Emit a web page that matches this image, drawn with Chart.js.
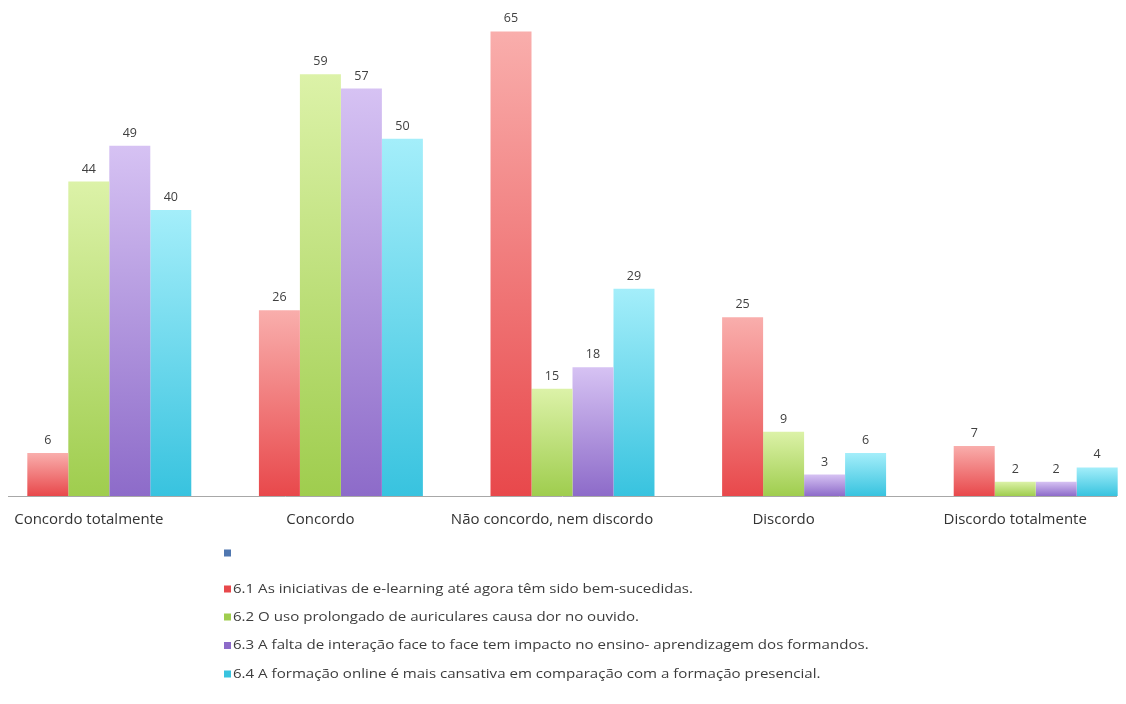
<!DOCTYPE html>
<html>
<head>
<meta charset="utf-8">
<script src="https://cdn.jsdelivr.net/npm/chart.js@4.4.0/dist/chart.umd.min.js"></script>
<style>
  html, body { margin: 0; padding: 0; background: #fff; overflow: hidden; }
  #wrap { position: absolute; left: -40px; top: 0; width: 1180px; height: 704px; }
</style>
</head>
<body>
<div id="wrap"><canvas id="barChart" width="1180" height="704"></canvas></div>
<script>
const categories = ['Concordo totalmente', 'Concordo', 'Não concordo, nem discordo', 'Discordo', 'Discordo totalmente'];

const seriesNames = [
    '',
    '6.1 As iniciativas de e-learning até agora têm sido bem-sucedidas.',
    '6.2 O uso prolongado de auriculares causa dor no ouvido.',
    '6.3 A falta de interação face to face tem impacto no ensino- aprendizagem dos formandos.',
    '6.4 A formação online é mais cansativa em comparação com a formação presencial.'
];

const serieVazia = [null, null, null, null, null];
const serie61 = [6, 26, 65, 25, 7];
const serie62 = [44, 59, 15, 9, 2];
const serie63 = [49, 57, 18, 3, 2];
const serie64 = [40, 50, 29, 6, 4];

// top / bottom colour of each bar gradient
const colours = [
    ['#6f8fc0', '#5077b0'],
    ['#f9aeac', '#e8484b'],
    ['#dcf2a8', '#9fcd4e'],
    ['#d6c2f3', '#8d6bc9'],
    ['#a4eefa', '#38c3df']
];

const FONT = '"Open Sans", Lato, sans-serif';

function barGradient(i) {
    return function (ctx) {
        const chart = ctx.chart;
        if (ctx.type !== 'data' || !chart.chartArea) return colours[i][1];
        const y = chart.scales.y;
        const top = y.getPixelForValue(ctx.raw || 0);
        const bottom = y.getPixelForValue(0);
        const g = chart.ctx.createLinearGradient(0, top, 0, bottom);
        g.addColorStop(0, colours[i][0]);
        g.addColorStop(1, colours[i][1]);
        return g;
    };
}

const allSeries = [serieVazia, serie61, serie62, serie63, serie64];

// numbers over the bars, the base line and the legend column
const extras = {
    id: 'extras',
    afterDatasetsDraw(chart) {
        const ctx = chart.ctx;
        ctx.save();
        ctx.font = '12.5px ' + FONT;
        ctx.fillStyle = '#404040';
        ctx.textAlign = 'center';
        ctx.textBaseline = 'alphabetic';
        chart.data.datasets.forEach((ds, i) => {
            const meta = chart.getDatasetMeta(i);
            meta.data.forEach((bar, j) => {
                const v = ds.data[j];
                if (v === null || v === undefined) return;
                ctx.fillText(String(v), bar.x, bar.y - 9);
            });
        });

        const base = chart.scales.y.getPixelForValue(0);
        ctx.strokeStyle = '#a8a8a8';
        ctx.lineWidth = 1;
        ctx.beginPath();
        ctx.moveTo(48, base + 0.5);
        ctx.lineTo(1157, base + 0.5);
        ctx.stroke();
        ctx.restore();
    },
    afterDraw(chart) {
        const ctx = chart.ctx;
        const rows = [553, 589, 617, 645.5, 674];
        ctx.save();
        ctx.font = '13px ' + FONT;
        ctx.textAlign = 'left';
        ctx.textBaseline = 'middle';
        chart.data.datasets.forEach((ds, i) => {
            const y = rows[i];
            ctx.fillStyle = colours[i][1];
            ctx.fillRect(264, y - 3.5, 7, 7);
            // legend text is set a little wide
            ctx.save();
            ctx.translate(273, y);
            ctx.scale(1.16, 1);
            ctx.fillStyle = '#3c3c3c';
            ctx.fillText(ds.label, 0, 0);
            ctx.restore();
        });
        ctx.restore();
    }
};

new Chart(document.getElementById('barChart').getContext('2d'), {
    type: 'bar',
    data: {
        labels: categories,
        datasets: allSeries.map((data, i) => ({
            label: seriesNames[i],
            data: data,
            backgroundColor: barGradient(i),
            borderWidth: 0,
            barPercentage: 1,
            categoryPercentage: 0.885
        }))
    },
    options: {
        responsive: false,
        animation: false,
        layout: { padding: { left: 13, right: 9, top: 10, bottom: 160 } },
        plugins: {
            legend: { display: false },
            tooltip: { enabled: false }
        },
        scales: {
            x: {
                grid: { display: false, drawTicks: false },
                border: { display: false },
                ticks: {
                    padding: 15,
                    color: '#333',
                    font: { family: FONT, size: 15 },
                    maxRotation: 0,
                    autoSkip: false
                }
            },
            y: {
                display: false,
                min: 0,
                max: 68
            }
        }
    },
    plugins: [extras]
});
</script>
</body>
</html>
